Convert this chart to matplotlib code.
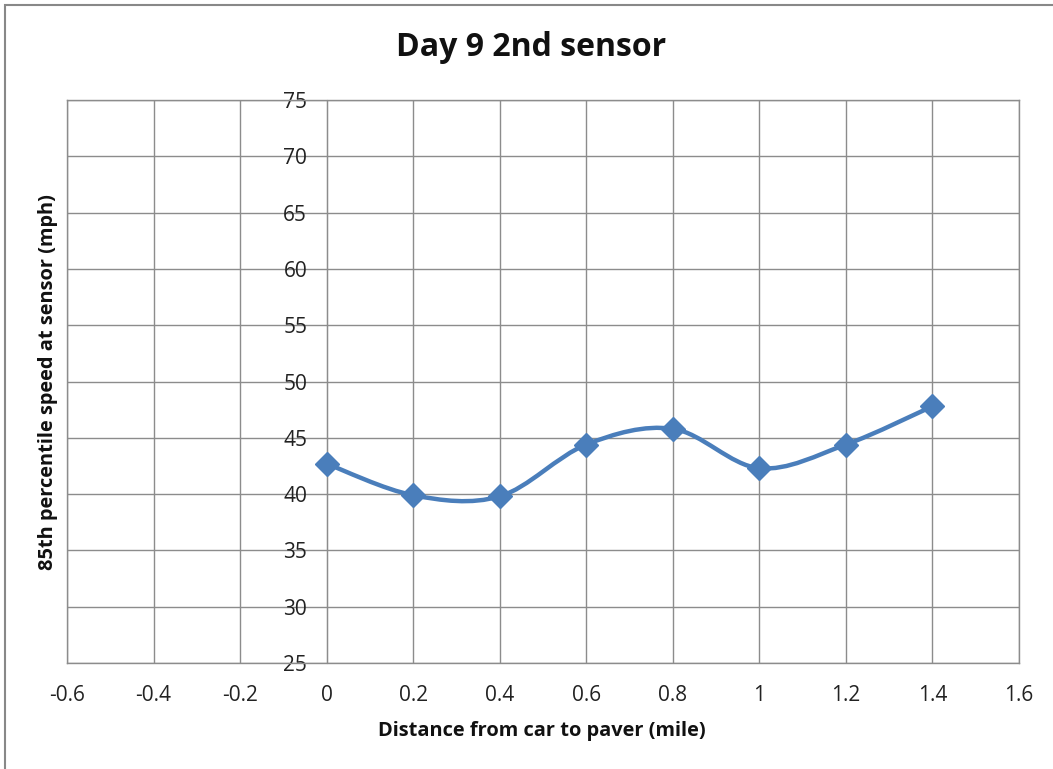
import matplotlib
matplotlib.use("Agg")
import matplotlib.pyplot as plt
from matplotlib.path import Path
from matplotlib.patches import PathPatch, Rectangle
import numpy as np

# Data
distance = [0.0, 0.2, 0.4, 0.6, 0.8, 1.0, 1.2, 1.4]
speed = [42.7, 39.9, 39.8, 44.4, 45.8, 42.3, 44.4, 47.8]
x_ticks = [-0.6, -0.4, -0.2, 0, 0.2, 0.4, 0.6, 0.8, 1, 1.2, 1.4, 1.6]
x_tick_labels = ["-0.6", "-0.4", "-0.2", "0", "0.2", "0.4", "0.6", "0.8", "1", "1.2", "1.4", "1.6"]
y_ticks = [25, 30, 35, 40, 45, 50, 55, 60, 65, 70, 75]

title = "Day 9 2nd sensor"
xlabel = "Distance from car to paver (mile)"
ylabel = "85th percentile speed at sensor (mph)"

plt.rcParams['font.family'] = ['Open Sans', 'DejaVu Sans']

fig = plt.figure(figsize=(10.53, 7.69), dpi=100)
ax = fig.add_axes([67/1053, 1-663/769, (1019-67)/1053, (663-100)/769])

line_color = '#4A7EBB'
grid_color = '#8C8C8C'

ax.set_xlim(-0.6, 1.6)
ax.set_ylim(25, 75)
ax.set_xticks(x_ticks)
ax.set_xticklabels(x_tick_labels)
ax.set_yticks(y_ticks)
ax.grid(True, color=grid_color, linewidth=1.0)
ax.set_axisbelow(True)

for s in ['top', 'right', 'bottom']:
    ax.spines[s].set_color(grid_color)
    ax.spines[s].set_linewidth(1.0)
ax.spines['left'].set_position(('data', 0))
ax.spines['left'].set_color(grid_color)
ax.axvline(-0.6, color=grid_color, linewidth=1.0, clip_on=False, zorder=0)

ax.tick_params(axis='both', length=0, labelsize=15, colors='#222222')
ax.tick_params(axis='x', pad=16)
ax.tick_params(axis='y', pad=14)

# Smoothed line (Excel-style Bezier)
pts = np.column_stack([distance, speed])
n = len(pts)
verts = [tuple(pts[0])]
codes = [Path.MOVETO]
for i in range(n - 1):
    p0 = pts[i - 1] if i > 0 else pts[i]
    p1 = pts[i]
    p2 = pts[i + 1]
    p3 = pts[i + 2] if i + 2 < n else pts[i + 1]
    c1 = p1 + (p2 - p0) / 6.0
    c2 = p2 - (p3 - p1) / 6.0
    verts += [tuple(c1), tuple(c2), tuple(p2)]
    codes += [Path.CURVE4] * 3
ax.add_patch(PathPatch(Path(verts, codes), facecolor='none', edgecolor=line_color,
                       linewidth=3.2, capstyle='round', joinstyle='round', zorder=3))
ax.plot(distance, speed, linestyle='none', marker='D', markersize=12.5,
        color=line_color, zorder=4)

fig.text(531/1053, 1-48/769, title, ha='center', va='center', fontsize=23, fontweight='bold', color='#111111')
fig.text(542/1053, 1-731/769, xlabel, ha='center', va='center', fontsize=14.4, fontweight='bold', color='#111111')
fig.text(48/1053, 1-382/769, ylabel, ha='center', va='center', rotation=90, fontsize=14.4, fontweight='bold', color='#111111')

fig.patches.append(Rectangle((5/1053, -0.1), 1.2, 1.1 - 5/769, transform=fig.transFigure,
                             fill=False, edgecolor='#888888', linewidth=1.5))

fig.savefig("out.png", dpi=100)
